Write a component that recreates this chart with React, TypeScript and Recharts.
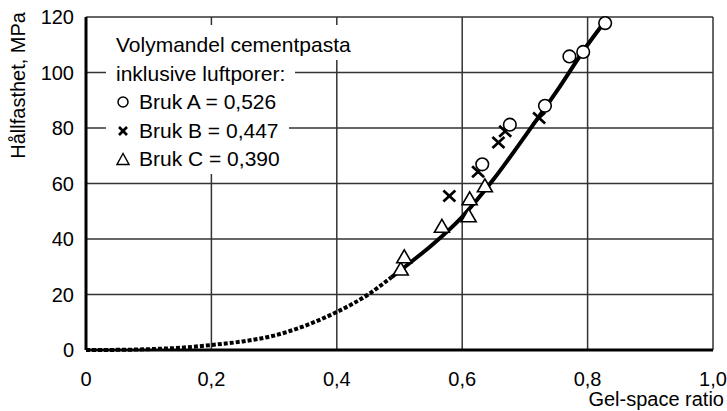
import { ComposedChart, Line, Scatter, XAxis, YAxis, CartesianGrid } from 'recharts';

// axis ticks
const xTicks = [0, 0.2, 0.4, 0.6, 0.8, 1.0];
const yTicks = [0, 20, 40, 60, 80, 100, 120];

// fitted curve (dotted = extrapolated part)
const dottedX = [0, 0.05, 0.1, 0.15, 0.2, 0.25, 0.3, 0.35, 0.4, 0.45, 0.487];
const dottedY = [0, 0.05, 0.3, 0.8, 1.8, 3.1, 5.2, 8.8, 13.7, 20, 26.2];
const solidX = [0.487, 0.52, 0.55, 0.6, 0.65, 0.7, 0.75, 0.8, 0.828];
const solidY = [26.2, 32, 37.5, 48, 61.5, 77, 93, 110, 118.5];

// measured points
const brukA = [[0.632, 66.9], [0.676, 81.2], [0.732, 88], [0.771, 105.8], [0.793, 107.4], [0.828, 117.8]];
const brukB = [[0.5795, 55.5], [0.6254, 64.2], [0.6578, 74.8], [0.6686, 78.8], [0.7227, 83.6]];
const brukC = [[0.502, 29.0], [0.5076, 33.4], [0.5676, 44.4], [0.6103, 48.2], [0.6119, 54.3], [0.6362, 59.0]];

const legendTitle = ['Volymandel cementpasta', 'inklusive luftporer:'];
const legendItems = [
  { marker: 'circle', label: 'Bruk A = 0,526' },
  { marker: 'cross', label: 'Bruk B = 0,447' },
  { marker: 'triangle', label: 'Bruk C = 0,390' },
];

const font = '"Liberation Sans", Arial, sans-serif';

const toXY = (xs: number[], ys: number[]) => xs.map((x, i) => ({ x, y: ys[i] }));
const pairs = (p: number[][]) => p.map(([x, y]) => ({ x, y }));

const CircleMark = (p: any) => <circle cx={p.cx} cy={p.cy} r={6.3} fill="#fff" stroke="#000" strokeWidth={1.6} />;
const CrossMark = (p: any) => (
  <g stroke="#000" strokeWidth={2.7}>
    <line x1={p.cx - 6} y1={p.cy - 5.5} x2={p.cx + 6} y2={p.cy + 5.5} />
    <line x1={p.cx - 6} y1={p.cy + 5.5} x2={p.cx + 6} y2={p.cy - 5.5} />
  </g>
);
const TriMark = (p: any) => (
  <polygon
    points={`${p.cx},${p.cy - 7.5} ${p.cx - 7.5},${p.cy + 5.5} ${p.cx + 7.5},${p.cy + 5.5}`}
    fill="#fff" stroke="#000" strokeWidth={1.6}
  />
);

function LegendMarker({ kind }: { kind: string }) {
  return (
    <svg width={14} height={14} style={{ marginRight: 9 }}>
      {kind === 'circle' && <circle cx={7} cy={7} r={5} fill="#fff" stroke="#000" strokeWidth={1.5} />}
      {kind === 'cross' && (
        <g stroke="#000" strokeWidth={2.6}>
          <line x1={3} y1={3} x2={11} y2={11} />
          <line x1={3} y1={11} x2={11} y2={3} />
        </g>
      )}
      {kind === 'triangle' && <polygon points="7,1.5 1,12.5 13,12.5" fill="#fff" stroke="#000" strokeWidth={1.4} />}
    </svg>
  );
}

const rowStyle: any = {
  background: '#fff', padding: '0 10px', width: 'fit-content', height: 28.5,
  lineHeight: '28.5px', display: 'flex', alignItems: 'center', whiteSpace: 'nowrap',
};

export default function App() {
  return (
    <div style={{ position: 'absolute', left: 0, top: 0, width: 727, height: 411, background: '#fff', fontFamily: font }}>
      <ComposedChart width={727} height={411} margin={{ top: 17, right: 14, left: 0, bottom: 0 }}>
        <CartesianGrid stroke="#333" strokeWidth={1.5} horizontalValues={yTicks} verticalValues={xTicks} />
        <XAxis
          type="number" dataKey="x" domain={[0, 1]} ticks={xTicks} height={61}
          tickFormatter={(v: number) => (v === 0 ? '0' : v.toFixed(1).replace('.', ','))}
          tick={{ fontSize: 20, fill: '#000', fontFamily: font }}
          tickLine={false} tickSize={0} tickMargin={22}
          axisLine={{ stroke: '#000', strokeWidth: 3 }}
          label={{
            content: () => (
              <text x={724} y={406} textAnchor="end" fontSize={20} fontFamily={font} fill="#000">Gel-space ratio</text>
            ),
          }}
        />
        <YAxis
          type="number" dataKey="y" domain={[0, 120]} ticks={yTicks} width={86}
          tick={{ fontSize: 20, fill: '#000', fontFamily: font }}
          tickLine={false} tickSize={0} tickMargin={12}
          axisLine={{ stroke: '#000', strokeWidth: 3 }}
          label={{
            content: () => (
              <text transform="translate(25,12) rotate(-90)" textAnchor="end" fontSize={20} fontFamily={font} fill="#000">
                Hållfasthet, MPa
              </text>
            ),
          }}
        />
        <Line data={toXY(dottedX, dottedY)} dataKey="y" type="monotone" stroke="#000" strokeWidth={4}
          strokeDasharray="4 2" dot={false} isAnimationActive={false} />
        <Line data={toXY(solidX, solidY)} dataKey="y" type="monotone" stroke="#000" strokeWidth={4}
          dot={false} isAnimationActive={false} />
        <Scatter data={pairs(brukC)} dataKey="y" shape={TriMark} isAnimationActive={false} />
        <Scatter data={pairs(brukB)} dataKey="y" shape={CrossMark} isAnimationActive={false} />
        <Scatter data={pairs(brukA)} dataKey="y" shape={CircleMark} isAnimationActive={false} />
      </ComposedChart>

      {/* legend, white boxes behind each text row cut the grid lines */}
      <div style={{ position: 'absolute', left: 106, top: 25, fontSize: 21, color: '#000' }}>
        {legendTitle.map((t, i) => (
          <div key={t} style={{ ...rowStyle, paddingTop: i === 0 ? 6 : 0 }}>{t}</div>
        ))}
        {legendItems.map(it => (
          <div key={it.label} style={rowStyle}>
            <LegendMarker kind={it.marker} />
            {it.label}
          </div>
        ))}
      </div>
    </div>
  );
}
